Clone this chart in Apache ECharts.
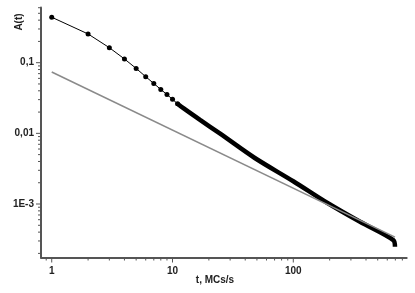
<!DOCTYPE html>
<html><head><meta charset="utf-8">
<script src="https://cdn.jsdelivr.net/npm/echarts@6/dist/echarts.min.js"></script>
<style>html,body{margin:0;padding:0;background:#fff}#c{width:415px;height:293px}</style>
</head><body><div id="c"></div>
<script>
// Measured series (t, A(t))
const markerT = [1, 2, 3, 4, 5, 6, 7, 8, 9, 10, 11];
const markerA = [0.44, 0.255, 0.163, 0.113, 0.083, 0.0634, 0.0508, 0.0418, 0.0355, 0.0303, 0.0263];
// Dense part where markers merge into a thick band
const denseT = [11, 12.3, 16.9, 24.8, 48, 100, 189, 357, 673, 695];
const denseA = [0.0263, 0.0227, 0.0155, 0.0099, 0.00448, 0.0021, 0.00105, 0.00056, 0.000309, 0.000248];
// Grey straight reference line
const fitT = [1, 695];
const fitA = [0.0738, 0.00034];

const xMin = 0.815, xMax = 869, yMin = 1.75e-4, yMax = 0.604;
const xMajorTicks = [1, 10, 100];
const xTickLabels = ['1', '10', '100'];
const yMajorTicks = [0.001, 0.01, 0.1];
const yTickLabels = ['1E-3', '0,01', '0,1'];
const xMinorTicks = [0.9, 2, 3, 4, 5, 6, 7, 8, 9, 20, 30, 40, 50, 60, 70, 80, 90, 200, 300, 400, 500, 600, 700, 800];
const yMinorTicks = [2e-4, 3e-4, 4e-4, 5e-4, 6e-4, 7e-4, 8e-4, 9e-4,
  0.002, 0.003, 0.004, 0.005, 0.006, 0.007, 0.008, 0.009,
  0.02, 0.03, 0.04, 0.05, 0.06, 0.07, 0.08, 0.09, 0.2, 0.3, 0.4, 0.5, 0.6];

const zip = (a, b) => a.map((v, i) => [v, b[i]]);
const labelFor = (ticks, labels) => v => {
  const i = ticks.findIndex(m => Math.abs(Math.log10(v) - Math.log10(m)) < 1e-6);
  return i >= 0 ? labels[i] : '';
};
const axisColor = '#555';
const font = '"Liberation Sans", Arial, sans-serif';

const xTickData = xMajorTicks.map(t => [t, 5]).concat(xMinorTicks.map(t => [t, 3]));
const yTickData = yMajorTicks.map(t => [t, 5]).concat(yMinorTicks.map(t => [t, 3]));

const chart = echarts.init(document.getElementById('c'), null, {renderer: 'canvas'});
chart.setOption({
  animation: false,
  backgroundColor: '#fff',
  grid: {left: 41, right: 8.3, top: 7.5, bottom: 35.5},
  xAxis: {
    type: 'log', logBase: 10, min: xMin, max: xMax,
    axisLine: {show: true, lineStyle: {color: axisColor, width: 2}},
    axisTick: {show: false}, splitLine: {show: false},
    axisLabel: {
      showMinLabel: false, showMaxLabel: false, margin: 9,
      color: '#222', fontSize: 10, fontWeight: 'bold', fontFamily: font,
      formatter: labelFor(xMajorTicks, xTickLabels)
    }
  },
  yAxis: {
    type: 'log', logBase: 10, min: yMin, max: yMax,
    axisLine: {show: true, lineStyle: {color: axisColor, width: 2}},
    axisTick: {show: false}, splitLine: {show: false},
    axisLabel: {
      showMinLabel: false, showMaxLabel: false, margin: 7,
      color: '#222', fontSize: 10, fontWeight: 'bold', fontFamily: font,
      formatter: labelFor(yMajorTicks, yTickLabels)
    }
  },
  graphic: [
    {type: 'text', x: 19, y: 22, rotation: Math.PI / 2,
      style: {text: 'A(t)', fill: '#222', font: 'bold 10px ' + font, textAlign: 'center', textVerticalAlign: 'middle'}},
    {type: 'text', x: 215, y: 280,
      style: {text: 't, MCs/s', fill: '#222', font: 'bold 10px ' + font, textAlign: 'center', textVerticalAlign: 'middle'}}
  ],
  series: [
    {
      type: 'line', data: zip(denseT, denseA), showSymbol: false, smooth: 0.3,
      lineStyle: {color: '#000', width: 4.5}, z: 2
    },
    {
      type: 'line', data: zip(markerT, markerA), symbol: 'circle', symbolSize: 5,
      itemStyle: {color: '#000'}, lineStyle: {color: '#000', width: 1}, z: 3
    },
    {
      type: 'line', data: zip(fitT, fitA), showSymbol: false,
      lineStyle: {color: '#8a8a8a', width: 1.5}, z: 4
    },
    {
      type: 'custom', data: xTickData, clip: false, silent: true, z: 5,
      renderItem: (params, api) => {
        const p = api.coord([api.value(0), yMin]);
        const len = api.value(1);
        return {type: 'line', shape: {x1: p[0], y1: p[1], x2: p[0], y2: p[1] + len},
          style: {stroke: axisColor, lineWidth: 1}};
      }
    },
    {
      type: 'custom', data: yTickData.map(d => [xMin, d[0], d[1]]), clip: false, silent: true, z: 5,
      renderItem: (params, api) => {
        const p = api.coord([xMin, api.value(1)]);
        const len = api.value(2);
        return {type: 'line', shape: {x1: p[0], y1: p[1], x2: p[0] - len, y2: p[1]},
          style: {stroke: axisColor, lineWidth: 1}};
      }
    }
  ]
});
</script>
</body></html>
